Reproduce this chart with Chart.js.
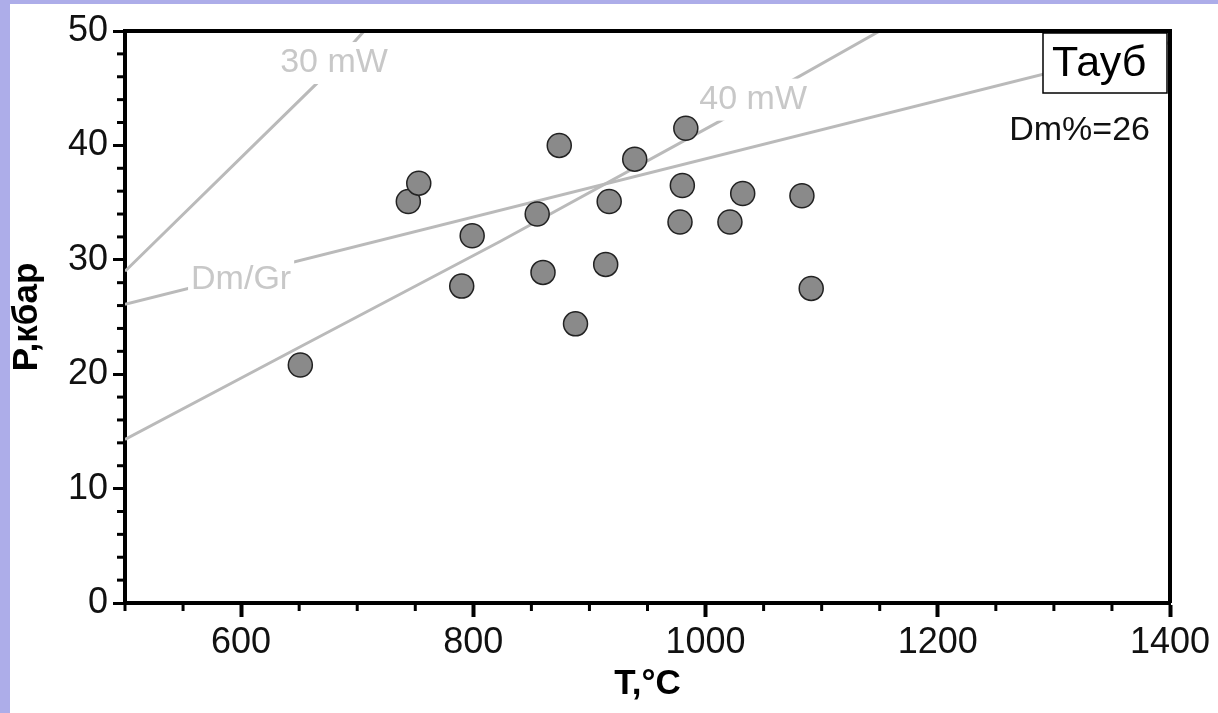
<!DOCTYPE html>
<html lang="ru">
<head>
  <meta charset="UTF-8" />
  <title>P-T диаграмма</title>
  <script src="https://cdn.jsdelivr.net/npm/chart.js"></script>
  <style>
    html, body {
      margin: 0;
      padding: 0;
      background: #adade9;
      width: 1218px;
      height: 713px;
      overflow: hidden;
    }
    .plot-box {
      position: absolute;
      left: 10px;
      top: 4px;
      width: 1208px;
      height: 709px;
      background: #fff;
    }
  </style>
</head>
<body>
  <div class="plot-box">
    <canvas id="ptChart"></canvas>
  </div>

  <script>
    // Точки образцов (T, °C / P, кбар)
    const tempC = [651, 744, 753, 790, 799, 855, 860, 874, 888, 914, 917, 939, 978, 980, 983, 1021, 1032, 1083, 1091];
    const pressKbar = [20.8, 35.1, 36.7, 27.7, 32.1, 34.0, 28.9, 40.0, 24.4, 29.6, 35.1, 38.8, 33.3, 36.5, 41.5, 33.3, 35.8, 35.6, 27.5];

    // Геотермы и линия Dm/Gr
    const geo30T = [500, 665, 706];
    const geo30P = [29.0, 45.4, 50.0];
    const geo40T = [500, 651, 823, 1012, 1150];
    const geo40P = [14.3, 22.4, 31.6, 42.1, 50.0];
    const dmGrT = [500, 1400];
    const dmGrP = [26.1, 49.0];

    const lineNames = ['30 mW', '40 mW', 'Dm/Gr'];
    const sampleName = 'Тауб';
    const dmPercent = 'Dm%=26';

    const FONT = '"Liberation Sans", Arial, sans-serif';
    const LINE_GREY = '#bababa';

    function toPoints(xs, ys) {
      return xs.map((x, i) => ({ x: x, y: ys[i] }));
    }

    // где подписывать линии (в координатах графика)
    const labelAnchors = {
      '30 mW': { x: 680, y: 47.2 },
      '40 mW': { x: 1041, y: 44.0 },
      'Dm/Gr': { x: 600, y: 28.3 }
    };

    const extrasPlugin = {
      id: 'extras',
      afterDatasetDraw(chart, args) {
        const ds = chart.data.datasets[args.index];
        if (!ds.tag) return;
        const a = labelAnchors[ds.tag];
        const ctx = chart.ctx;
        const px = chart.scales.x.getPixelForValue(a.x);
        const py = chart.scales.y.getPixelForValue(a.y);
        ctx.save();
        ctx.font = '34px ' + FONT;
        const w = ctx.measureText(ds.tag).width;
        ctx.fillStyle = '#fff';
        ctx.fillRect(px - w / 2 - 3, py - 21, w + 6, 42);
        ctx.fillStyle = '#c8c8c8';
        ctx.textAlign = 'center';
        ctx.textBaseline = 'middle';
        ctx.fillText(ds.tag, px, py);
        ctx.restore();
      },
      afterDraw(chart) {
        const ctx = chart.ctx;
        const area = chart.chartArea;
        const xs = chart.scales.x;
        const ys = chart.scales.y;
        ctx.save();

        // рамка сверху и справа
        ctx.strokeStyle = '#000';
        ctx.lineWidth = 4;
        ctx.beginPath();
        ctx.moveTo(area.left, area.top);
        ctx.lineTo(area.right, area.top);
        ctx.lineTo(area.right, area.bottom);
        ctx.stroke();

        // мелкие засечки
        ctx.lineWidth = 3;
        ys.ticks.forEach(t => {
          if (t.value % 10 === 0) return;
          const y = ys.getPixelForValue(t.value);
          ctx.beginPath();
          ctx.moveTo(area.left - 8, y);
          ctx.lineTo(area.left, y);
          ctx.stroke();
        });
        xs.ticks.forEach(t => {
          if (t.value % 200 === 0) return;
          const x = xs.getPixelForValue(t.value);
          ctx.beginPath();
          ctx.moveTo(x, area.bottom);
          ctx.lineTo(x, area.bottom + 8);
          ctx.stroke();
        });

        // рамка с названием
        const bx = area.right - 127;
        const by = area.top + 2;
        ctx.fillStyle = '#fff';
        ctx.fillRect(bx, by, 124, 60);
        ctx.lineWidth = 1.5;
        ctx.strokeRect(bx, by, 124, 60);
        ctx.fillStyle = '#000';
        ctx.font = '43px ' + FONT;
        ctx.textAlign = 'left';
        ctx.textBaseline = 'alphabetic';
        ctx.fillText(sampleName, bx + 9, by + 43);

        ctx.font = '34px ' + FONT;
        ctx.textAlign = 'right';
        ctx.fillStyle = '#111';
        ctx.fillText(dmPercent, area.right - 20, area.top + 109);
        ctx.restore();
      }
    };

    const lineStyle = {
      type: 'scatter',
      showLine: true,
      pointRadius: 0,
      borderColor: LINE_GREY,
      borderWidth: 3,
      fill: false,
      tension: 0
    };

    new Chart(document.getElementById('ptChart'), {
      type: 'scatter',
      data: {
        datasets: [
          {
            label: 'samples',
            data: toPoints(tempC, pressKbar),
            pointRadius: 12,
            pointBackgroundColor: '#8a8a8a',
            pointBorderColor: '#222',
            pointBorderWidth: 1.5,
            order: 0
          },
          Object.assign({ label: lineNames[0], tag: lineNames[0], data: toPoints(geo30T, geo30P), order: 3 }, lineStyle),
          Object.assign({ label: lineNames[1], tag: lineNames[1], data: toPoints(geo40T, geo40P), order: 2 }, lineStyle),
          Object.assign({ label: lineNames[2], tag: lineNames[2], data: toPoints(dmGrT, dmGrP), order: 1 }, lineStyle)
        ]
      },
      options: {
        responsive: true,
        maintainAspectRatio: false,
        animation: false,
        events: [],
        layout: { padding: { left: 0, top: 27, right: 48, bottom: 0 } },
        plugins: {
          legend: { display: false },
          tooltip: { enabled: false }
        },
        scales: {
          x: {
            type: 'linear',
            min: 500,
            max: 1400,
            afterFit(scale) { scale.height = 110; },
            border: { color: '#000', width: 4 },
            grid: {
              drawOnChartArea: false,
              tickLength: 14,
              tickWidth: 4,
              tickColor: c => (c.tick && c.tick.value % 200 === 0) ? '#000' : 'rgba(0,0,0,0)'
            },
            ticks: {
              stepSize: 50,
              autoSkip: false,
              maxRotation: 0,
              padding: 4,
              color: '#111',
              font: { family: FONT, size: 36 },
              callback: v => (v % 200 === 0 ? String(v) : '')
            },
            title: {
              display: true,
              text: 'T,°C',
              color: '#000',
              font: { family: FONT, size: 35, weight: 'bold', lineHeight: 1 },
              padding: { top: 0, bottom: 11 }
            }
          },
          y: {
            type: 'linear',
            min: 0,
            max: 50,
            afterFit(scale) { scale.width = 115; },
            border: { color: '#000', width: 4 },
            grid: {
              drawOnChartArea: false,
              tickLength: 12,
              tickWidth: 3,
              tickColor: c => (c.tick && c.tick.value % 10 === 0) ? '#000' : 'rgba(0,0,0,0)'
            },
            ticks: {
              stepSize: 2,
              autoSkip: false,
              padding: 5,
              color: '#111',
              font: { family: FONT, size: 36 },
              callback: v => (v % 10 === 0 ? String(v) : '')
            },
            title: {
              display: true,
              text: 'P,кбар',
              color: '#000',
              font: { family: FONT, size: 35, weight: 'bold', lineHeight: 1 },
              padding: { top: 0, bottom: 0 }
            }
          }
        }
      },
      plugins: [extrasPlugin]
    });
  </script>
</body>
</html>
